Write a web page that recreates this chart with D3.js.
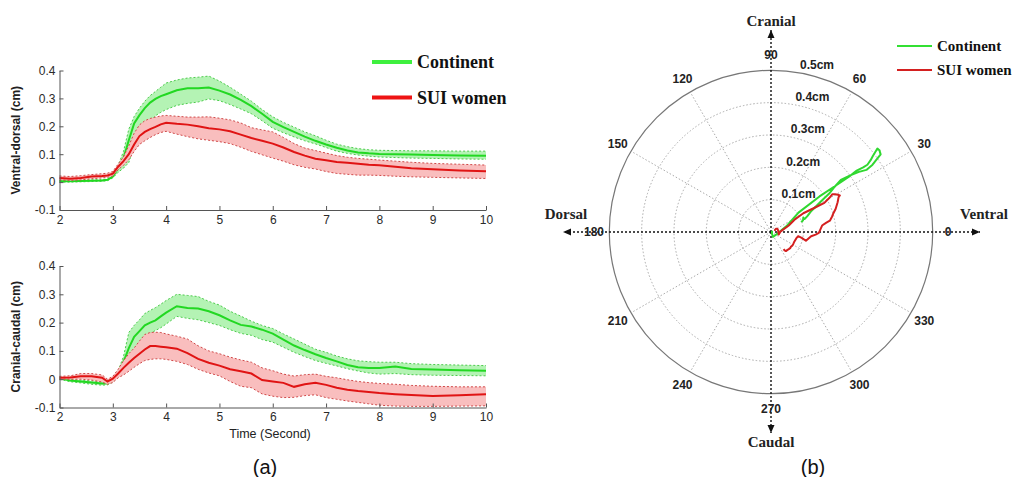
<!DOCTYPE html>
<html>
<head>
<meta charset="UTF-8">
<title>Bladder neck displacement</title>
<script src="https://cdn.jsdelivr.net/npm/d3@7"></script>
<style>
  body { margin: 0; background: #fff; }
  svg { display: block; }
</style>
</head>
<body>
<script>
// time axis (second), shared by every series
var time = [2.0,2.2,2.4,2.6,2.8,2.9, 3.0,3.1,3.2,3.3,3.4,3.5,3.6,3.7,3.8,3.9,4.0,
  4.2,4.4,4.6,4.8,5.0,5.2,5.4,5.6,5.8,6.0,6.2,6.4,6.6,6.8,7.0,7.2,7.4,7.6,7.8,8.0,
  8.3,8.6,9.0,9.5,10.0];

// ventral-dorsal (cm)
var vdContinent   = [0.003,0.003,0.004,0.005,0.006,0.008, 0.02,0.05,0.085,0.15,0.21,0.24,0.265,0.285,0.298,0.308,0.315,
  0.329,0.336,0.336,0.339,0.328,0.314,0.295,0.272,0.245,0.216,0.197,0.18,0.163,0.148,0.135,0.123,0.113,0.106,0.103,0.101,
  0.1,0.099,0.097,0.095,0.094];
var vdContinentHi = [0.006,0.006,0.007,0.008,0.009,0.011, 0.025,0.06,0.11,0.19,0.235,0.265,0.29,0.31,0.325,0.34,0.355,
  0.366,0.373,0.376,0.38,0.362,0.34,0.315,0.29,0.26,0.234,0.214,0.197,0.18,0.166,0.15,0.136,0.127,0.12,0.116,0.114,
  0.113,0.112,0.112,0.111,0.111];
var vdContinentLo = [0.0,0.0,0.001,0.002,0.003,0.005, 0.015,0.035,0.05,0.07,0.13,0.17,0.198,0.22,0.238,0.25,0.26,
  0.275,0.282,0.287,0.298,0.292,0.278,0.262,0.245,0.22,0.193,0.177,0.162,0.148,0.137,0.124,0.111,0.103,0.097,0.093,0.09,
  0.088,0.086,0.085,0.083,0.082];
var vdSui   = [0.015,0.012,0.015,0.02,0.022,0.024, 0.03,0.055,0.075,0.1,0.135,0.165,0.18,0.19,0.198,0.207,0.213,
  0.209,0.206,0.2,0.193,0.189,0.182,0.17,0.158,0.148,0.138,0.124,0.108,0.095,0.084,0.078,0.072,0.069,0.066,0.062,0.06,
  0.055,0.05,0.046,0.042,0.039];
var vdSuiHi = [0.022,0.02,0.023,0.027,0.03,0.032, 0.038,0.065,0.09,0.13,0.175,0.205,0.22,0.228,0.233,0.237,0.239,
  0.236,0.233,0.233,0.234,0.229,0.223,0.212,0.195,0.187,0.18,0.16,0.138,0.122,0.113,0.104,0.095,0.089,0.085,0.082,0.079,
  0.075,0.071,0.067,0.064,0.061];
var vdSuiLo = [0.008,0.006,0.008,0.012,0.015,0.017, 0.022,0.045,0.06,0.08,0.11,0.135,0.148,0.16,0.17,0.178,0.182,
  0.172,0.163,0.155,0.15,0.145,0.138,0.125,0.11,0.098,0.086,0.075,0.062,0.053,0.047,0.038,0.031,0.028,0.025,0.025,0.024,
  0.021,0.019,0.017,0.015,0.013];

// cranial-caudal (cm)
var ccContinent   = [0.004,-0.005,-0.008,-0.012,-0.015,-0.014, -0.005,0.02,0.06,0.11,0.15,0.17,0.19,0.2,0.208,0.222,0.235,
  0.258,0.252,0.25,0.24,0.226,0.208,0.192,0.186,0.175,0.161,0.14,0.119,0.103,0.088,0.075,0.063,0.05,0.042,0.04,0.04,
  0.045,0.036,0.034,0.032,0.03];
var ccContinentHi = [0.008,-0.001,-0.003,-0.006,-0.009,-0.008, 0.0,0.03,0.08,0.165,0.19,0.21,0.232,0.243,0.253,0.265,0.278,
  0.3,0.296,0.292,0.275,0.262,0.24,0.223,0.205,0.19,0.179,0.16,0.142,0.124,0.106,0.095,0.082,0.072,0.065,0.062,0.06,
  0.06,0.055,0.052,0.05,0.048];
var ccContinentLo = [0.0,-0.009,-0.013,-0.018,-0.021,-0.02, -0.01,0.01,0.04,0.066,0.1,0.13,0.149,0.162,0.172,0.182,0.195,
  0.222,0.215,0.21,0.2,0.19,0.175,0.162,0.155,0.14,0.131,0.113,0.095,0.08,0.066,0.056,0.047,0.037,0.029,0.022,0.018,
  0.02,0.016,0.014,0.013,0.012];
var ccSui   = [0.005,0.006,0.01,0.01,0.005,-0.008, 0.002,0.02,0.04,0.058,0.075,0.09,0.105,0.117,0.117,0.115,0.113,
  0.108,0.092,0.072,0.058,0.048,0.035,0.028,0.02,-0.003,-0.008,-0.013,-0.027,-0.018,-0.013,-0.02,-0.03,-0.037,-0.042,-0.045,-0.049,
  -0.053,-0.056,-0.059,-0.057,-0.053];
var ccSuiHi = [0.01,0.012,0.02,0.02,0.015,0.0, 0.01,0.035,0.065,0.09,0.11,0.135,0.158,0.165,0.166,0.165,0.16,
  0.152,0.142,0.118,0.1,0.09,0.078,0.068,0.06,0.04,0.03,0.018,0.011,0.016,0.018,0.01,0.005,-0.002,-0.008,-0.012,-0.015,
  -0.018,-0.022,-0.025,-0.027,-0.027];
var ccSuiLo = [0.0,0.0,0.0,-0.003,-0.01,-0.018, -0.012,0.005,0.015,0.028,0.042,0.055,0.066,0.07,0.072,0.072,0.07,
  0.063,0.052,0.035,0.022,0.012,-0.008,-0.025,-0.03,-0.052,-0.06,-0.065,-0.064,-0.058,-0.055,-0.065,-0.071,-0.077,-0.082,-0.087,-0.092,
  -0.095,-0.096,-0.096,-0.095,-0.094];

var groupNames = ["Continent", "SUI women"];
var xTicks = [2,3,4,5,6,7,8,9,10];
var yTicks = [-0.1,0,0.1,0.2,0.3,0.4];
var angleTicks = [0,30,60,90,120,150,180,210,240,270,300,330];
var ringTicks = [0.1,0.2,0.3,0.4,0.5];
var ringLabels = ["0.1cm","0.2cm","0.3cm","0.4cm","0.5cm"];

var sans = "Arial, 'Liberation Sans', sans-serif";
var serif = "'Times New Roman', 'Liberation Serif', serif";
var green = {line: "#22d822", band: "#b4f3b4", edge: "#4ccc4c", legend: "#3ef03e"};
var red = {line: "#e01414", band: "#f9bebe", edge: "#d04848", legend: "#ee1414"};

var svg = d3.select("body").append("svg")
  .attr("width", 1018)
  .attr("height", 477);

var x = d3.scaleLinear().domain([2, 10]).range([59.5, 486]);

function rows(mean, hi, lo) {
  return time.map(function(t, i) { return {t: t, m: mean[i], hi: hi[i], lo: lo[i]}; });
}

// one panel of (a)
function drawPanel(top, bottom, title, series) {
  var y = d3.scaleLinear().domain([-0.1, 0.4]).range([bottom, top]);
  var g = svg.append("g");

  series.forEach(function(s) {
    var data = rows(s.mean, s.hi, s.lo);
    g.append("path").datum(data)
      .attr("fill", s.col.band)
      .attr("d", d3.area().x(function(d){return x(d.t);}).y0(function(d){return y(d.lo);}).y1(function(d){return y(d.hi);}));
    ["hi", "lo"].forEach(function(k) {
      g.append("path").datum(data)
        .attr("fill", "none")
        .attr("stroke", s.col.edge)
        .attr("stroke-width", 1)
        .attr("stroke-dasharray", "2,2")
        .attr("d", d3.line().x(function(d){return x(d.t);}).y(function(d){return y(d[k]);}));
    });
    g.append("path").datum(data)
      .attr("fill", "none")
      .attr("stroke", s.col.line)
      .attr("stroke-width", 2)
      .attr("d", d3.line().x(function(d){return x(d.t);}).y(function(d){return y(d.m);}));
  });

  var ax = svg.append("g")
    .attr("transform", "translate(0," + bottom + ")")
    .call(d3.axisBottom(x).tickValues(xTicks).tickSizeInner(-4).tickSizeOuter(0).tickPadding(5));
  var ay = svg.append("g")
    .attr("transform", "translate(59.5,0)")
    .call(d3.axisLeft(y).tickValues(yTicks).tickSizeInner(-4).tickSizeOuter(0).tickPadding(4)
      .tickFormat(function(d){ return String(d); }));
  [ax, ay].forEach(function(a) {
    a.selectAll(".domain, line").attr("stroke", "#555");
    a.selectAll("text").attr("font-family", sans).attr("font-size", 12).attr("fill", "#2a2a2a");
  });

  svg.append("text")
    .attr("transform", "translate(20," + ((top + bottom) / 2) + ") rotate(-90)")
    .attr("text-anchor", "middle")
    .attr("font-family", sans)
    .attr("font-weight", "bold")
    .attr("font-size", 12)
    .attr("fill", "#222")
    .text(title);
}

drawPanel(70.5, 210, "Ventral-dorsal (cm)", [
  {mean: vdContinent, hi: vdContinentHi, lo: vdContinentLo, col: green},
  {mean: vdSui, hi: vdSuiHi, lo: vdSuiLo, col: red}
]);
drawPanel(266, 407.5, "Cranial-caudal (cm)", [
  {mean: ccContinent, hi: ccContinentHi, lo: ccContinentLo, col: green},
  {mean: ccSui, hi: ccSuiHi, lo: ccSuiLo, col: red}
]);

svg.append("text")
  .attr("x", 270).attr("y", 438)
  .attr("text-anchor", "middle")
  .attr("font-family", sans).attr("font-size", 12.5).attr("fill", "#222")
  .text("Time (Second)");

// legend of (a)
[green, red].forEach(function(c, i) {
  var ly = 62 + i * 35.5;
  svg.append("line")
    .attr("x1", 372).attr("x2", 412).attr("y1", ly).attr("y2", ly)
    .attr("stroke", c.legend).attr("stroke-width", 4);
  svg.append("text")
    .attr("x", 417).attr("y", ly).attr("dy", "0.35em")
    .attr("font-family", serif).attr("font-weight", "bold").attr("font-size", 18).attr("fill", "#111")
    .text(groupNames[i]);
});

// (b) polar plot
var cx = 771, cy = 232;
var r = d3.scaleLinear().domain([0, 0.5]).range([0, 161.7]);
var pg = svg.append("g").attr("transform", "translate(" + cx + "," + cy + ")");

svg.append("defs").append("marker")
  .attr("id", "arrow")
  .attr("viewBox", "0 -4 8 8")
  .attr("refX", 8).attr("refY", 0)
  .attr("markerWidth", 8).attr("markerHeight", 8)
  .attr("markerUnits", "userSpaceOnUse")
  .attr("orient", "auto")
  .append("path").attr("d", "M0,-3.5L8,0L0,3.5Z").attr("fill", "#111");

pg.selectAll(".ring").data(ringTicks).enter().append("circle")
  .attr("r", function(d){ return r(d); })
  .attr("fill", "none")
  .attr("stroke", function(d){ return d === 0.5 ? "#777" : "#aaa"; })
  .attr("stroke-width", function(d){ return d === 0.5 ? 1.2 : 1; })
  .attr("stroke-dasharray", function(d){ return d === 0.5 ? null : "1.5,2"; });

pg.selectAll(".spoke").data(angleTicks.filter(function(a){ return a % 90 !== 0; })).enter().append("line")
  .attr("x1", 0).attr("y1", 0)
  .attr("x2", function(a){ return r(0.5) * Math.cos(a * Math.PI / 180); })
  .attr("y2", function(a){ return -r(0.5) * Math.sin(a * Math.PI / 180); })
  .attr("stroke", "#aaa").attr("stroke-dasharray", "1.5,2");

// main axes with arrows
[[209, 0], [-208, 0], [0, -202], [0, 201]].forEach(function(p) {
  pg.append("line")
    .attr("x1", 0).attr("y1", 0).attr("x2", p[0]).attr("y2", p[1])
    .attr("stroke", "#111").attr("stroke-width", 1.4).attr("stroke-dasharray", "2,2")
    .attr("marker-end", "url(#arrow)");
});

pg.selectAll(".angle").data(angleTicks).enter().append("text")
  .attr("x", function(a){ return 177 * Math.cos(a * Math.PI / 180); })
  .attr("y", function(a){ return -177 * Math.sin(a * Math.PI / 180); })
  .attr("dy", "0.35em")
  .attr("text-anchor", "middle")
  .attr("font-family", sans).attr("font-weight", "bold").attr("font-size", 12).attr("fill", "#222")
  .text(function(a){ return a; });

pg.selectAll(".rlabel").data(ringTicks).enter().append("text")
  .attr("x", function(d){ return 6 + 46 * d; })
  .attr("y", function(d){ return -r(d) - 6; })
  .attr("dy", "0.35em")
  .attr("font-family", sans).attr("font-weight", "bold").attr("font-size", 12).attr("fill", "#222")
  .text(function(d, i){ return ringLabels[i]; });

var radial = d3.lineRadial()
  .angle(function(d){ return Math.atan2(d[0], d[1]); })
  .radius(function(d){ return r(Math.hypot(d[0], d[1])); });

[[vdContinent, ccContinent, "#30d830"], [vdSui, ccSui, "#d42020"]].forEach(function(s) {
  pg.append("path").datum(d3.zip(s[0], s[1]))
    .attr("fill", "none").attr("stroke", s[2]).attr("stroke-width", 2)
    .attr("stroke-linejoin", "round")
    .attr("d", radial);
});

// direction names
[["Cranial", 0, -211], ["Caudal", 0, 210], ["Dorsal", -205, -18], ["Ventral", 213, -18]].forEach(function(t) {
  pg.append("text")
    .attr("x", t[1]).attr("y", t[2]).attr("dy", "0.35em")
    .attr("text-anchor", "middle")
    .attr("font-family", serif).attr("font-weight", "bold").attr("font-size", 15).attr("fill", "#222")
    .text(t[0]);
});

// legend of (b)
[["#33e033", 46], ["#d42020", 70]].forEach(function(c, i) {
  svg.append("line")
    .attr("x1", 897).attr("x2", 932).attr("y1", c[1]).attr("y2", c[1])
    .attr("stroke", c[0]).attr("stroke-width", 2);
  svg.append("text")
    .attr("x", 937).attr("y", c[1]).attr("dy", "0.35em")
    .attr("font-family", serif).attr("font-weight", "bold").attr("font-size", 15).attr("fill", "#111")
    .text(groupNames[i]);
});

// panel letters
[["(a)", 265], ["(b)", 813]].forEach(function(p) {
  svg.append("text")
    .attr("x", p[1]).attr("y", 467).attr("dy", "0.35em")
    .attr("text-anchor", "middle")
    .attr("font-family", sans).attr("font-size", 20).attr("fill", "#111")
    .text(p[0]);
});
</script>
</body>
</html>
